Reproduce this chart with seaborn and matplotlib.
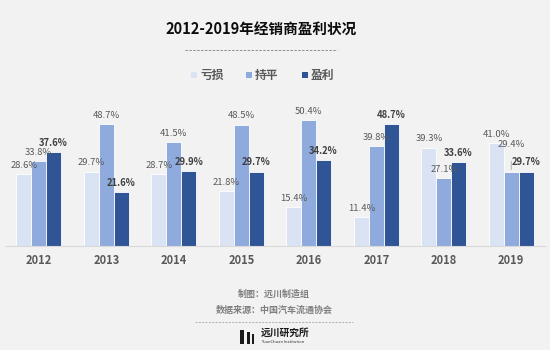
import matplotlib
matplotlib.use("Agg")
import matplotlib.pyplot as plt
import seaborn as sns
import pandas as pd
import numpy as np
from matplotlib.lines import Line2D
from matplotlib.patches import Rectangle

years = ["2012", "2013", "2014", "2015", "2016", "2017", "2018", "2019"]
loss = [28.6, 29.7, 28.7, 21.8, 15.4, 11.4, 39.3, 41.0]
even = [33.8, 48.7, 41.5, 48.5, 50.4, 39.8, 27.1, 29.4]
profit = [37.6, 21.6, 29.9, 29.7, 34.2, 48.7, 33.6, 29.7]
series_names = ["亏损", "持平", "盈利"]
colors = ["#dae3f3", "#8faadc", "#2f5597"]
title = "2012-2019年经销商盈利状况"
footer1 = "制图：远川制造组"
footer2 = "数据来源：中国汽车流通协会"

sns.set_theme(style="white")
plt.rcParams['font.family'] = ['Noto Sans CJK SC', 'DejaVu Sans']

bg = "#f2f2f2"
df = pd.DataFrame({
    "year": years * 3,
    "value": loss + even + profit,
    "series": [series_names[0]] * 8 + [series_names[1]] * 8 + [series_names[2]] * 8,
})

fig = plt.figure(figsize=(5.5, 3.5), dpi=100, facecolor=bg)
ax = fig.add_axes([5 / 550, 104 / 350, 540 / 550, 146 / 350])
ax.set_facecolor(bg)
sns.barplot(data=df, x="year", y="value", hue="series", palette=colors,
            order=years, hue_order=series_names, width=0.66, ax=ax,
            edgecolor="white", linewidth=0.6, legend=False, saturation=1)
ax.set_xlim(-0.5, 7.5)
ax.set_ylim(0, 58.3)
ax.set_xlabel("")
ax.set_ylabel("")
ax.set_yticks([])
for s in ["top", "right", "left"]:
    ax.spines[s].set_visible(False)
ax.spines["bottom"].set_color("#d9d9d9")
ax.spines["bottom"].set_linewidth(0.8)
ax.tick_params(axis="x", which="major", length=0, pad=6, labelsize=8, labelcolor="#595959")
for lbl in ax.get_xticklabels():
    lbl.set_fontweight("bold")
ax.set_xticks(np.arange(-0.5, 8.0, 1.0), minor=True)
ax.tick_params(axis="x", which="minor", length=5, color="#d9d9d9", width=0.8, direction="out")

for i, cont in enumerate(ax.containers):
    if i < 2:
        texts = ax.bar_label(cont, fmt="%.1f%%", padding=3, fontsize=6.8, color="#595959")
    else:
        texts = ax.bar_label(cont, fmt="%.1f%%", padding=3, fontsize=6.8, color="#404040",
                             fontweight="bold")
    if i == 1:
        # lift the middle label where it would collide with the neighbouring label
        for j, (t, bar) in enumerate(zip(texts, cont)):
            if abs(even[j] - profit[j]) < 2:
                t.set_y(0)
                t.xyann = (0, 17)
                xc = bar.get_x() + bar.get_width() / 2
                top = bar.get_height()
                ax.annotate("", xy=(xc, top), xytext=(0, 10), textcoords="offset points",
                            arrowprops=dict(arrowstyle="-", color="#a6a6a6", lw=0.6))

# Title
fig.text(261 / 550, 1 - 29 / 350, title, ha="center", va="center", fontsize=10.5,
         fontweight="bold", color="#0d0d0d")
fig.add_artist(Line2D([185 / 550, 337 / 550], [1 - 50 / 350] * 2, color="#8c8c8c",
                      lw=0.7, linestyle=(0, (2.5, 1.5)), transform=fig.transFigure))

# Legend
leg_x = [194, 249, 305]
for name, c, x in zip(series_names, colors, leg_x):
    fig.add_artist(Rectangle(((x - 3) / 550, 1 - 78 / 350), 6 / 550, 6 / 350,
                             facecolor=c, edgecolor="none", transform=fig.transFigure))
    fig.text((x + 6) / 550, 1 - 75 / 350, name, ha="left", va="center", fontsize=8.5,
             color="#595959", fontweight="bold")

# Footer
fig.text(274 / 550, 1 - 294 / 350, footer1, ha="center", va="center", fontsize=6.5,
         color="#7f7f7f", fontweight="bold")
fig.text(274 / 550, 1 - 310 / 350, footer2, ha="center", va="center", fontsize=6.5,
         color="#7f7f7f", fontweight="bold")
fig.add_artist(Line2D([195 / 550, 353 / 550], [1 - 322 / 350] * 2, color="#a6a6a6",
                      lw=0.6, linestyle=(0, (2.5, 1.5)), transform=fig.transFigure))
# logo
for bx, bw, bh in [(240, 4, 14), (247, 3, 12), (252, 2, 10)]:
    fig.add_artist(Rectangle((bx / 550, 1 - 344 / 350), bw / 550, bh / 350,
                             facecolor="#1a1a1a", edgecolor="none", transform=fig.transFigure))
fig.text(261 / 550, 1 - 333 / 350, "远川研究所", ha="left", va="center", fontsize=7,
         color="#1a1a1a", fontweight="bold")
fig.text(261 / 550, 1 - 342 / 350, "YuanChuan Institution", ha="left", va="center",
         fontsize=3, color="#333333")

fig.savefig("out.png", dpi=100, facecolor=bg)
